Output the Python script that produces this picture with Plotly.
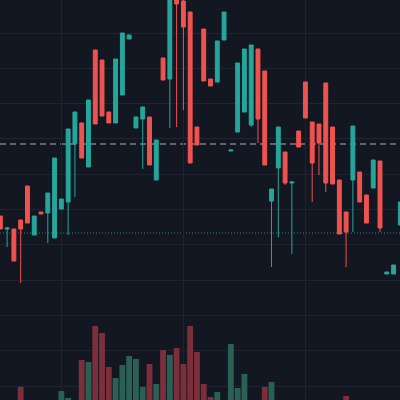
import plotly.graph_objects as go

# candle index (time axis)
idx = list(range(60))

open_ = [184, 171, 171, 180, 214, 165, 188, 187, 162, 191,
         198, 256, 277, 233, 350, 340, 288, 277, 305, 361,
         272, 281, 283, 220, 342, 321, 420, 399, 388, 273,
         371, 321, 318, 360, 249, 268, 288, 275, 351, 329,
         199, 232, 248, 217, 269, 318, 278, 276, 317, 273,
         220, 188, 220, 228, 205, 212, 239, 126, 126, 175]
high = [184, 172, 171, 180, 214, 184, 188, 207, 242, 201,
        271, 288, 277, 300, 350, 340, 288, 341, 367, 365,
        283, 293, 283, 260, 342, 420, 425, 405, 388, 273,
        371, 321, 359, 388, 250, 337, 351, 355, 351, 329,
        211, 273, 248, 218, 269, 318, 278, 276, 317, 273,
        220, 188, 274, 228, 205, 240, 239, 128, 135, 198]
low = [171, 153, 139, 117, 177, 165, 186, 157, 162, 191,
       165, 203, 242, 233, 276, 284, 277, 277, 305, 361,
       272, 231, 235, 220, 320, 272, 273, 290, 237, 255,
       319, 314, 318, 360, 249, 268, 288, 273, 257, 235,
       133, 163, 215, 146, 253, 282, 198, 225, 208, 216,
       166, 133, 168, 198, 177, 212, 168, 126, 126, 175]
close = [171, 172, 139, 171, 177, 184, 186, 207, 242, 201,
         271, 288, 242, 300, 276, 284, 277, 341, 367, 365,
         283, 293, 235, 260, 320, 412, 396, 373, 237, 255,
         319, 314, 359, 388, 250, 337, 351, 355, 281, 235,
         211, 273, 217, 218, 253, 282, 237, 257, 217, 216,
         166, 168, 274, 198, 177, 240, 172, 128, 135, 198]
volume = [0, 0, 0, 13, 0, 0, 0, 0, 0, 9,
          2, 0, 40, 38, 74, 67, 33, 22, 35, 44,
          41, 13, 36, 16, 50, 45, 52, 36, 74, 48,
          16, 3, 8, 0, 56, 12, 26, 0, 0, 13,
          18, 0, 0, 0, 0, 0, 0, 0, 0, 0,
          0, 4, 0, 0, 0, 0, 0, 0, 0, 0]

level_dashed = 256
level_dotted = 167

UP = "#26a69a"
DOWN = "#ef5350"
UP_VOL = "#2b6154"
DOWN_VOL = "#7a2f3b"
BG = "#131722"

vol_colors = [UP_VOL if c >= o else DOWN_VOL for o, c in zip(open_, close)]

fig = go.Figure()
fig.add_trace(go.Bar(x=idx, y=volume, marker=dict(color=vol_colors, line=dict(width=0)),
                     width=0.86, yaxis="y2", hoverinfo="skip"))
fig.add_trace(go.Candlestick(
    x=idx, open=open_, high=high, low=low, close=close,
    increasing=dict(line=dict(color=UP, width=1), fillcolor=UP),
    decreasing=dict(line=dict(color=DOWN, width=1), fillcolor=DOWN),
    whiskerwidth=0,
))

fig.add_shape(type="line", xref="paper", x0=0, x1=1, y0=level_dashed, y1=level_dashed,
              line=dict(color="#7a7e88", width=1.5, dash="6px,4px"), layer="below")
fig.add_shape(type="line", xref="paper", x0=0, x1=1, y0=level_dotted, y1=level_dotted,
              line=dict(color="rgba(38,166,154,0.75)", width=1, dash="1px,2px"), layer="below")

fig.update_layout(
    width=400, height=400,
    margin=dict(l=0, r=0, t=0, b=0),
    paper_bgcolor=BG, plot_bgcolor=BG,
    showlegend=False,
    boxgap=0.18,
    xaxis=dict(range=[-0.05, 58.95], rangeslider=dict(visible=False),
               showticklabels=False, showline=False, zeroline=False,
               tick0=9, dtick=18, gridcolor="#1f2430", gridwidth=1),
    yaxis=dict(range=[0, 400], showticklabels=False, zeroline=False, showline=False,
               tick0=14, dtick=35.3, gridcolor="#1f2430", gridwidth=1),
    yaxis2=dict(range=[0, 400], overlaying="y", showticklabels=False,
                showgrid=False, zeroline=False, showline=False),
)

fig.write_html("out.html", config={"displayModeBar": False},
               post_script="document.body.style.margin='0';document.body.style.background='%s';" % BG)
